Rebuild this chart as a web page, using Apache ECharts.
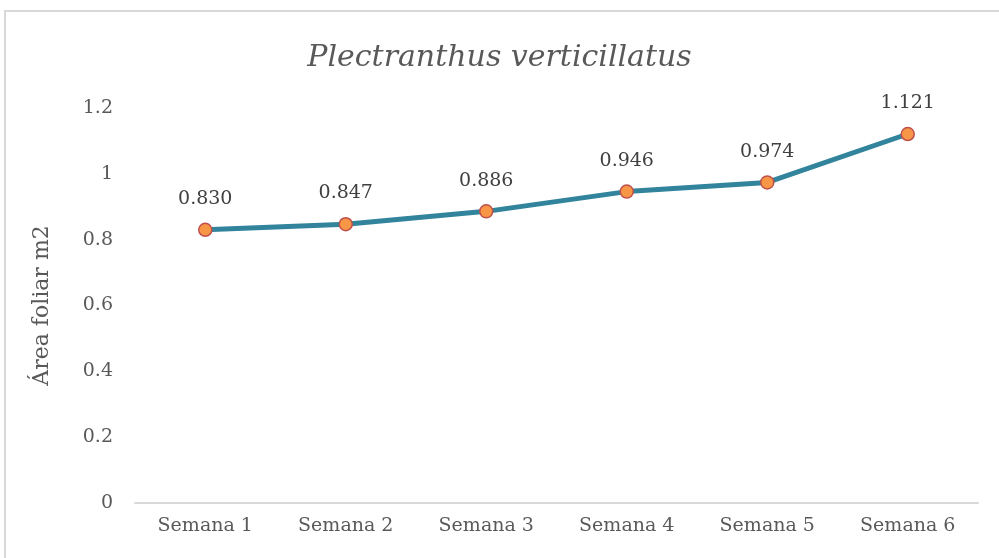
<!DOCTYPE html>
<html>
<head>
<meta charset="utf-8">
<script src="https://cdn.jsdelivr.net/npm/echarts@6/dist/echarts.min.js"></script>
<style>
  html, body { margin: 0; padding: 0; background: #fff; }
  #chart { width: 999px; height: 558px; }
</style>
</head>
<body>
<div id="chart"></div>
<script>
  // datos
  const semanas = ['Semana 1', 'Semana 2', 'Semana 3', 'Semana 4', 'Semana 5', 'Semana 6'];
  const areaFoliar = [0.830, 0.847, 0.886, 0.946, 0.974, 1.121];
  const yMin = 0, yMax = 1.2, yStep = 0.2;

  const chart = echarts.init(document.getElementById('chart'));
  const font = '"DejaVu Serif", "Liberation Serif", serif';

  chart.setOption({
    backgroundColor: '#fff',
    animation: false,
    graphic: [{
      type: 'rect',
      shape: { x: 5, y: 11, width: 1010, height: 570 },
      style: { fill: 'none', stroke: '#d9d9d9', lineWidth: 2 }
    }],
    title: {
      text: 'Plectranthus verticillatus',
      left: 'center',
      top: 38,
      textStyle: { fontFamily: font, fontStyle: 'italic', fontWeight: 'normal', fontSize: 30, color: '#595959' }
    },
    grid: { left: 135, right: 21, top: 108, bottom: 55 },
    xAxis: {
      type: 'category',
      data: semanas,
      axisLine: { lineStyle: { color: '#d9d9d9', width: 2 } },
      axisTick: { show: false },
      axisLabel: { fontFamily: font, fontSize: 19, color: '#595959', margin: 14 }
    },
    yAxis: {
      type: 'value',
      min: yMin, max: yMax, interval: yStep,
      name: 'Área foliar m2',
      nameLocation: 'middle',
      nameGap: 82,
      nameTextStyle: { fontFamily: font, fontSize: 22, color: '#595959' },
      axisLine: { show: false },
      axisTick: { show: false },
      splitLine: { show: false },
      axisLabel: {
        fontFamily: font, fontSize: 19, color: '#595959', margin: 22,
        formatter: v => String(Math.round(v * 10) / 10)
      }
    },
    series: [{
      type: 'line',
      data: areaFoliar,
      symbol: 'circle',
      symbolSize: 13,
      lineStyle: { color: '#31849b', width: 5 },
      itemStyle: { color: '#f79646', borderColor: '#c0504d', borderWidth: 1.5 },
      label: {
        show: true, position: 'top', distance: 14,
        fontFamily: font, fontSize: 19, color: '#404040',
        formatter: p => p.value.toFixed(3)
      }
    }]
  });
</script>
</body>
</html>
